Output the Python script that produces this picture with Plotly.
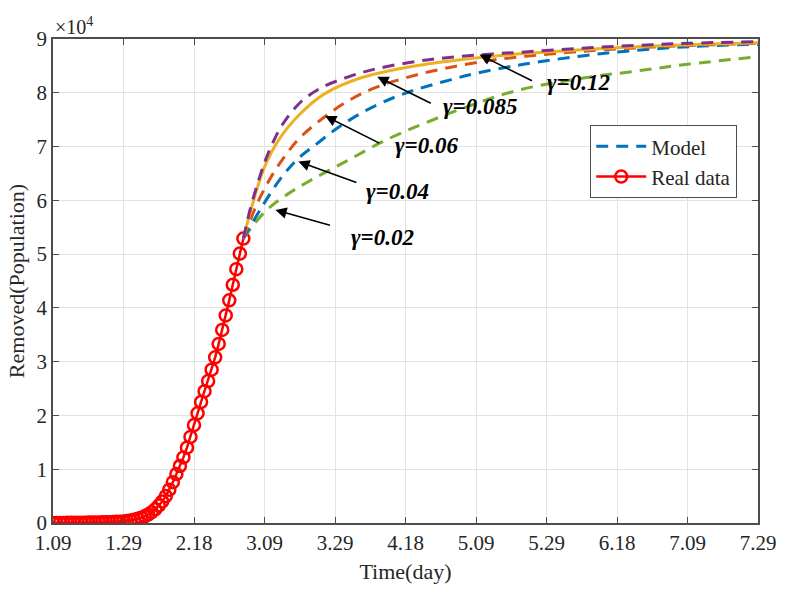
import plotly.graph_objects as go

# days since 1.09 (Jan 9); tick every 20 days
tick_days = [0, 20, 40, 60, 80, 100, 120, 140, 160, 180, 200]
tick_dates = ["1.09", "1.29", "2.18", "3.09", "3.29", "4.18", "5.09", "5.29", "6.18", "7.09", "7.29"]

# real data, daily, in units of 10^4
real_day = list(range(55))
real_val = [0.001, 0.001, 0.002, 0.002, 0.003, 0.003, 0.004, 0.004, 0.005, 0.006,
            0.007, 0.008, 0.009, 0.010, 0.012, 0.014, 0.016, 0.018, 0.021, 0.025,
            0.030, 0.038, 0.048, 0.062, 0.078, 0.098, 0.125, 0.158, 0.200, 0.255,
            0.325, 0.400, 0.500, 0.620, 0.760, 0.910, 1.060, 1.220, 1.400, 1.600,
            1.820, 2.040, 2.250, 2.450, 2.640, 2.850, 3.080, 3.330, 3.590, 3.860,
            4.140, 4.430, 4.720, 5.010, 5.290]

# model curves, units of 10^4
g002_day = [54, 60, 66, 73, 83, 95, 106, 117, 131.5, 150, 165, 180, 200]
g002_val = [5.29, 5.78, 6.09, 6.37, 6.72, 7.14, 7.45, 7.73, 8.04, 8.27, 8.40, 8.53, 8.67]
g004_day = [54, 59, 64.5, 69.6, 75, 81, 88.5, 97, 103, 111, 120, 133.5, 156, 181, 200]
g004_val = [5.29, 5.85, 6.40, 6.78, 7.06, 7.36, 7.66, 7.92, 8.06, 8.21, 8.36, 8.53, 8.73, 8.86, 8.90]
g006_day = [54, 58, 62, 66, 70, 77, 84, 92, 103, 114, 124, 134, 150, 170, 200]
g006_val = [5.29, 5.95, 6.45, 6.84, 7.16, 7.55, 7.86, 8.11, 8.33, 8.49, 8.60, 8.68, 8.77, 8.85, 8.92]
g0085_day = [54, 57, 60, 64, 70, 77, 87, 101, 115, 130, 150, 170, 200]
g0085_val = [5.29, 6.02, 6.62, 7.12, 7.60, 7.98, 8.27, 8.48, 8.61, 8.71, 8.80, 8.87, 8.93]
g012_day = [54, 56, 58, 60, 62, 65, 70, 76, 84, 92, 106, 120, 134, 150, 165, 180, 200]
g012_val = [5.29, 5.85, 6.30, 6.70, 7.02, 7.40, 7.81, 8.09, 8.30, 8.45, 8.61, 8.70, 8.76, 8.83, 8.88, 8.92, 8.95]

# gamma labels: text position, arrow tail, arrow head (data coords, 10^4 units)
labels = ["γ=0.02", "γ=0.04", "γ=0.06", "γ=0.085", "γ=0.12"]
label_pos = [(93.5, 5.31), (97.7, 6.17), (106, 7.02), (121, 7.75), (149, 8.19)]
arrow_tail = [(79, 5.53), (86.5, 6.32), (93, 7.05), (107.6, 7.79), (136.3, 8.21)]
arrow_head = [(63.1, 5.82), (69.6, 6.72), (77.2, 7.57), (92, 8.30), (121, 8.71)]

FONT = "Liberation Serif, Times New Roman, serif"
INK = "#262626"
BLUE, ORANGE, YELLOW, PURPLE, GREEN = "#0072BD", "#D95319", "#EDB120", "#7E2F8E", "#77AC30"
DASH = "12px,8px"

fig = go.Figure()
fig.add_trace(go.Scatter(x=real_day, y=[v * 1e4 for v in real_val], mode="lines+markers",
                         name="Real data", legendrank=2,
                         line=dict(color="#ff0000", width=2.5),
                         marker=dict(symbol="circle-open", size=12, color="#ff0000",
                                     line=dict(width=2.5, color="#ff0000"))))

models = [(g002_day, g002_val, GREEN, DASH, False),
          (g004_day, g004_val, BLUE, DASH, True),
          (g006_day, g006_val, ORANGE, DASH, False),
          (g0085_day, g0085_val, YELLOW, "solid", False),
          (g012_day, g012_val, PURPLE, DASH, False)]
for d, v, c, dash, leg in models:
    fig.add_trace(go.Scatter(x=d, y=[y * 1e4 for y in v], mode="lines", name="Model",
                             showlegend=leg, legendrank=1,
                             line=dict(color=c, width=3, dash=dash, shape="spline", smoothing=1.0)))

for t, (tx, ty), (ax, ay), (hx, hy) in zip(labels, label_pos, arrow_tail, arrow_head):
    fig.add_annotation(x=tx, y=ty * 1e4, text=f"<b><i>{t}</i></b>", showarrow=False,
                       font=dict(family=FONT, size=23, color="black"))
    fig.add_annotation(x=hx, y=hy * 1e4, ax=ax, ay=ay * 1e4, axref="x", ayref="y", text="",
                       showarrow=True, arrowhead=2, arrowsize=1.4, arrowwidth=1.6, arrowcolor="black")

fig.add_annotation(xref="paper", yref="paper", x=0, y=1, xanchor="left", yanchor="bottom",
                   xshift=0, yshift=-1, text="×10<sup>4</sup>", showarrow=False,
                   font=dict(family=FONT, size=20, color=INK))

axis_common = dict(showgrid=True, gridcolor="#e3e3e3", gridwidth=1, zeroline=False,
                   showline=True, linecolor="#4d4d4d", linewidth=1.5, mirror="ticks",
                   ticks="inside", ticklen=6, tickcolor="#4d4d4d", ticklabeloverflow="allow",
                   tickfont=dict(family=FONT, size=21, color=INK))
fig.update_xaxes(range=[0, 200], tickvals=tick_days, ticktext=tick_dates,
                 title=dict(text="Time(day)", font=dict(family=FONT, size=22, color=INK), standoff=10),
                 **axis_common)
fig.update_yaxes(range=[0, 90000], tickvals=[i * 1e4 for i in range(10)],
                 ticktext=[str(i) for i in range(10)],
                 title=dict(text="Removed(Population)", font=dict(family=FONT, size=22, color=INK),
                            standoff=6),
                 **axis_common)

fig.update_layout(width=788, height=592, plot_bgcolor="white", paper_bgcolor="white",
                  margin=dict(l=53, r=25, t=39, b=63),
                  font=dict(family=FONT, color=INK),
                  legend=dict(x=0.762, y=0.822, xanchor="left", yanchor="top",
                              bgcolor="white", bordercolor="#4d4d4d", borderwidth=1,
                              font=dict(family=FONT, size=21, color=INK),
                              tracegroupgap=0, itemwidth=50))

# the page body has a default 8px margin; drop it so the figure sits at (0, 0)
fig.write_html("out.html", config={"displayModeBar": False},
               post_script="document.body.style.margin='0';")
